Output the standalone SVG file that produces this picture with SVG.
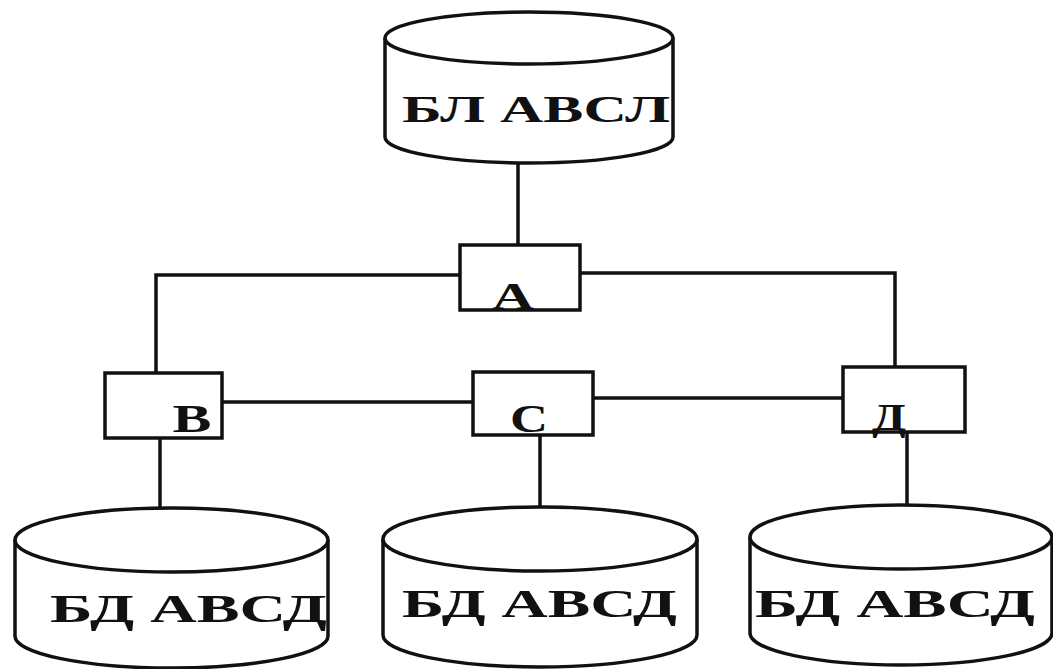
<svg xmlns="http://www.w3.org/2000/svg" width="1053" height="669" viewBox="0 0 1053 669">
<style>
.s{fill:#fff;stroke:#111;stroke-width:3.5}
.c{fill:none;stroke:#111;stroke-width:3.5}
.t{font-family:"Liberation Serif","DejaVu Serif",serif;font-weight:bold;fill:#111}
</style>
<rect width="1053" height="669" fill="#fff"/>
<g id="connectors">
<path class="c" d="M518,137 V245"/>
<path class="c" d="M460,275 H156 V373"/>
<path class="c" d="M580,273 H895 V367"/>
<path class="c" d="M222,402 H473"/>
<path class="c" d="M593,398 H843"/>
<path class="c" d="M160,438 V508"/>
<path class="c" d="M540,435 V507"/>
<path class="c" d="M907,432 V505"/>
</g>
<g id="db-top">
<path class="s" d="M385,38 V137 A144,26 0 0 0 673,137 V38"/>
<ellipse class="s" cx="529" cy="38" rx="144" ry="26"/>
<text class="t" x="402" y="122" font-size="38" textLength="268" lengthAdjust="spacingAndGlyphs">БЛ АВСЛ</text>
</g>
<g id="node-A">
<rect class="s" x="460" y="245" width="120" height="65"/>
<text class="t" x="513" y="309" font-size="38" text-anchor="middle" textLength="42" lengthAdjust="spacingAndGlyphs">А</text>
</g>
<g id="node-B">
<rect class="s" x="105" y="373" width="117" height="65"/>
<text class="t" x="192" y="432" font-size="40" text-anchor="middle" textLength="39" lengthAdjust="spacingAndGlyphs">В</text>
</g>
<g id="node-C">
<rect class="s" x="473" y="372" width="120" height="63"/>
<text class="t" x="529" y="432" font-size="40" text-anchor="middle" textLength="38" lengthAdjust="spacingAndGlyphs">С</text>
</g>
<g id="node-D">
<rect class="s" x="843" y="367" width="122" height="65"/>
<text class="t" x="889" y="430" font-size="38" text-anchor="middle" textLength="34" lengthAdjust="spacingAndGlyphs">Д</text>
</g>
<g id="db-B">
<path class="s" d="M15,540 V636 A156.5,32 0 0 0 328,636 V540"/>
<ellipse class="s" cx="171.5" cy="540" rx="156.5" ry="32"/>
<text class="t" x="50" y="622" font-size="40" textLength="277" lengthAdjust="spacingAndGlyphs">БД АВСД</text>
</g>
<g id="db-C">
<path class="s" d="M383,539 V635 A157,32 0 0 0 697,635 V539"/>
<ellipse class="s" cx="540" cy="539" rx="157" ry="32"/>
<text class="t" x="402" y="617" font-size="40" textLength="275" lengthAdjust="spacingAndGlyphs">БД АВСД</text>
</g>
<g id="db-D">
<path class="s" d="M750,537 V633 A151,32 0 0 0 1052,633 V537"/>
<ellipse class="s" cx="901" cy="537" rx="151" ry="32"/>
<text class="t" x="755" y="617" font-size="40" textLength="280" lengthAdjust="spacingAndGlyphs">БД АВСД</text>
</g>
</svg>
